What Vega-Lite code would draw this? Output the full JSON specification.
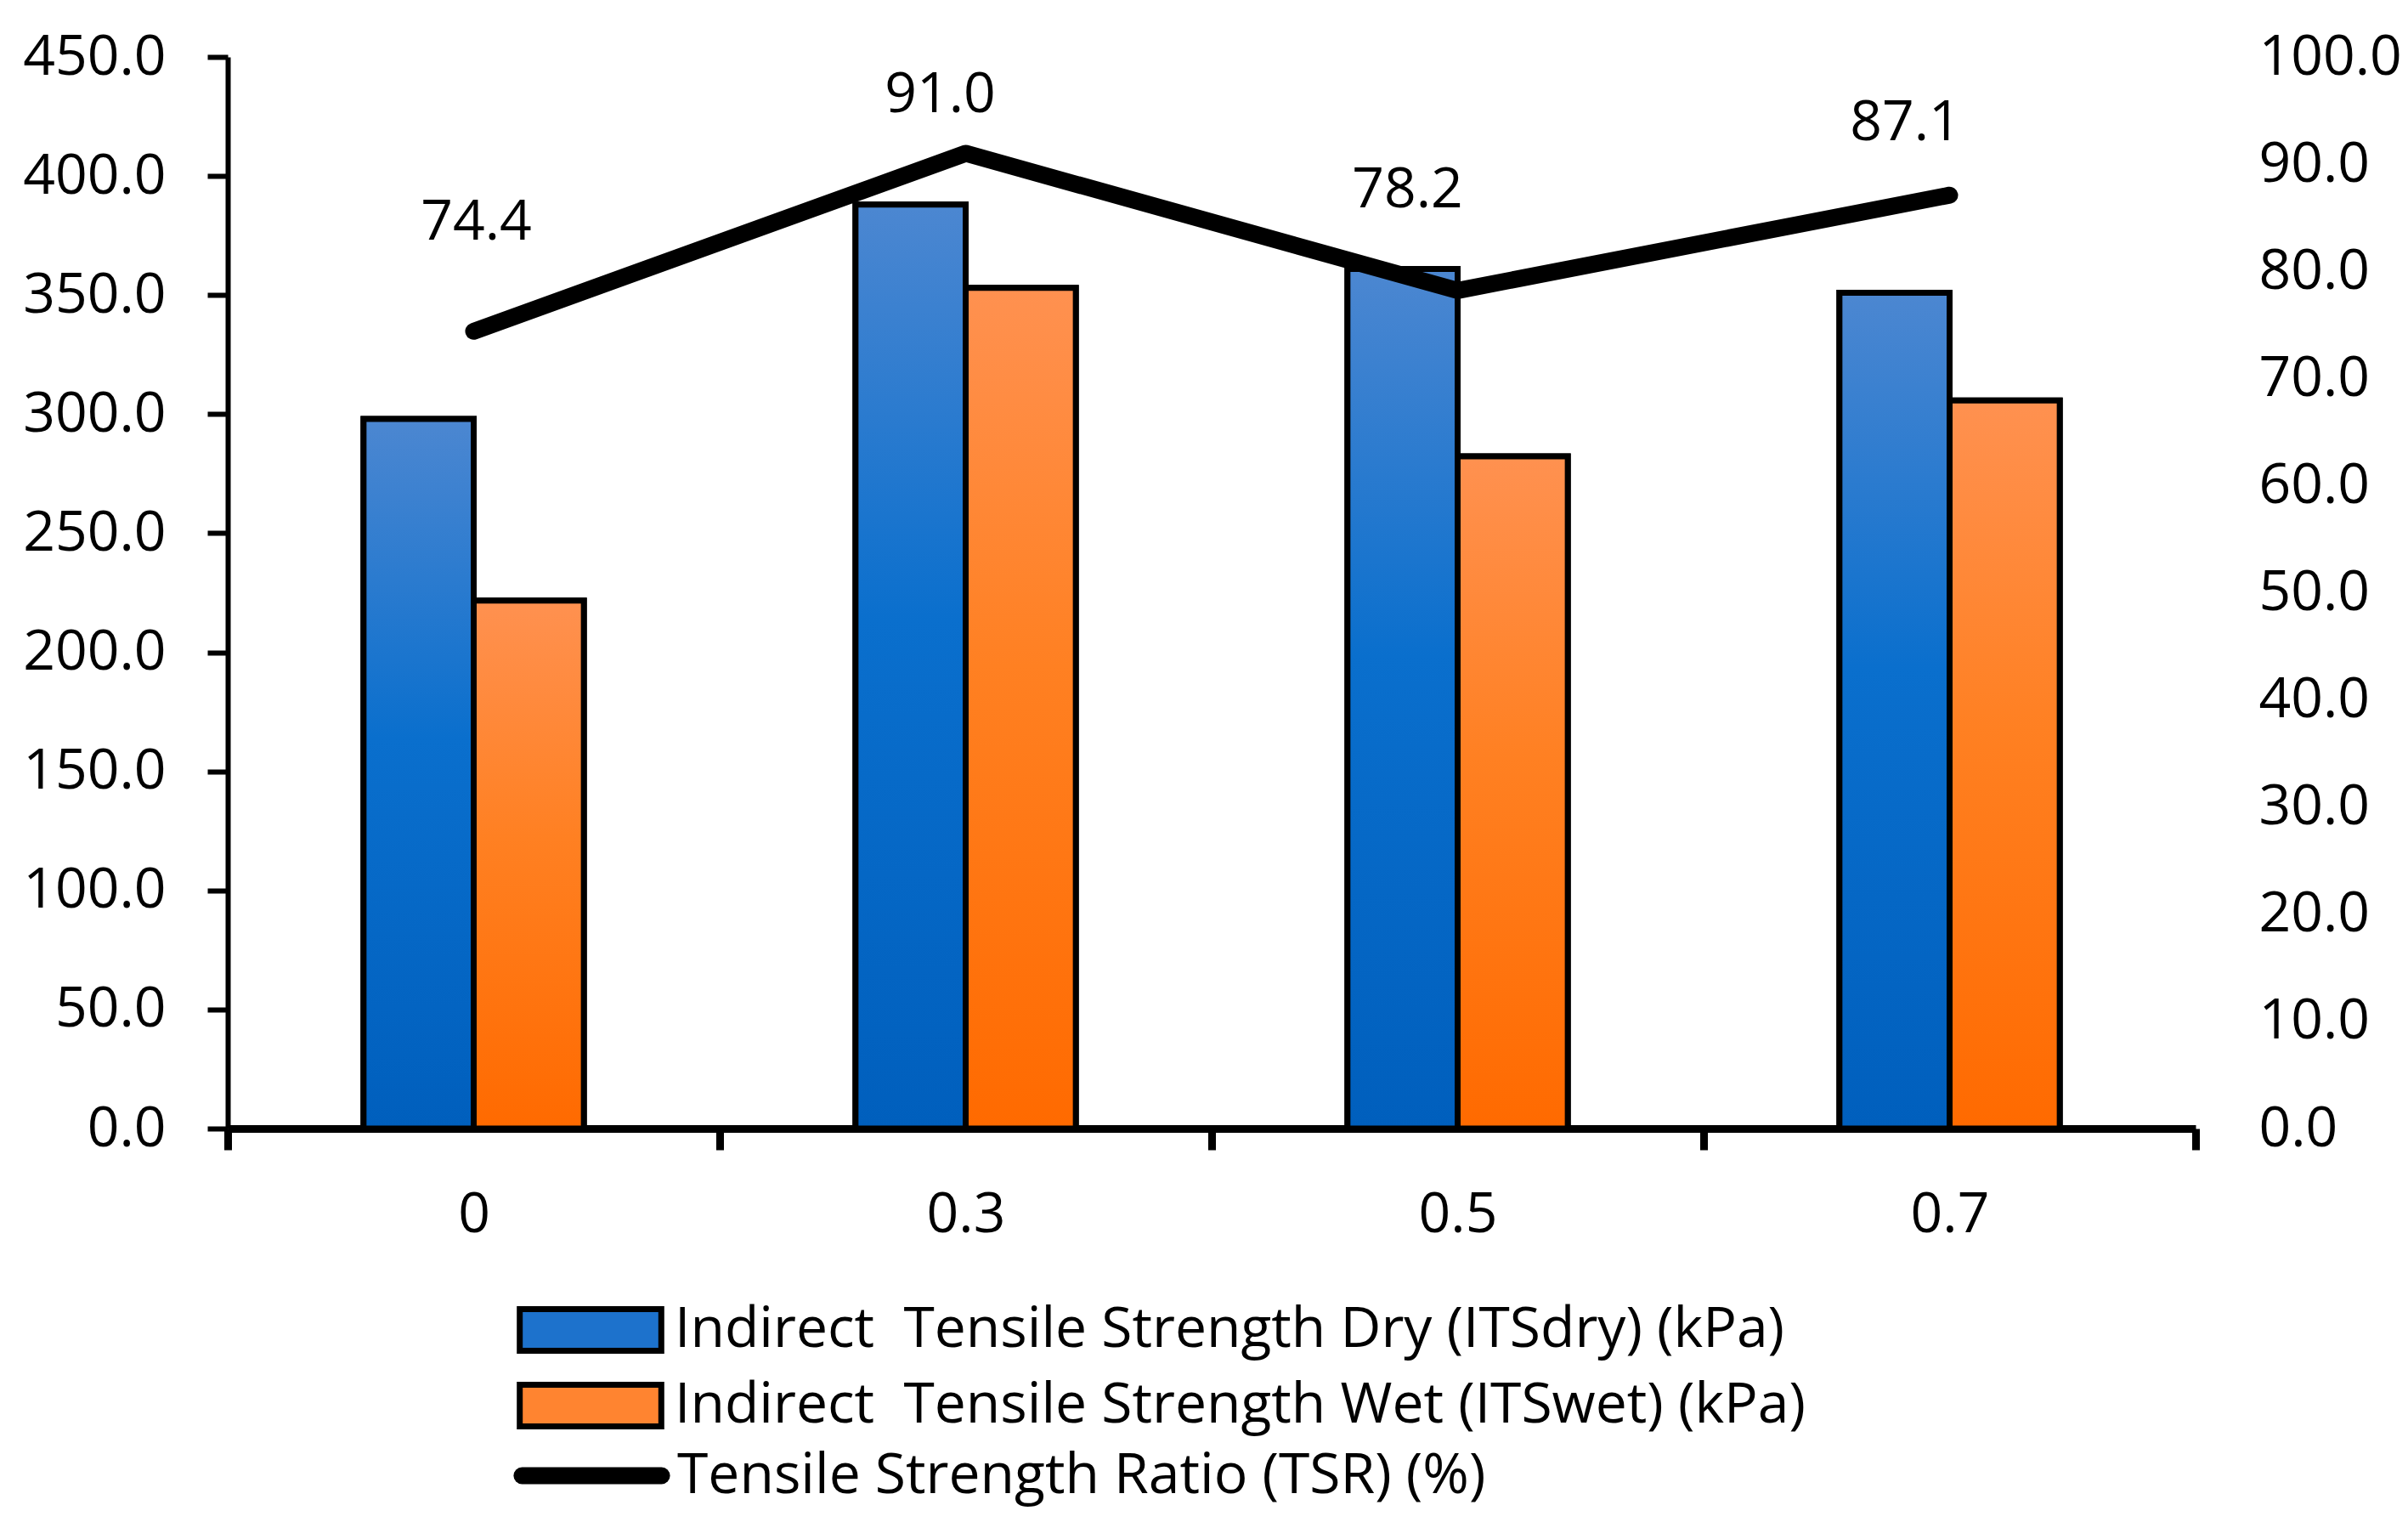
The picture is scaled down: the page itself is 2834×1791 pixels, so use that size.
{
  "$schema": "https://vega.github.io/schema/vega-lite/v6.json",
  "autosize": "none",
  "padding": {"left": 268, "top": 67, "right": 250, "bottom": 463},
  "width": 2316,
  "height": 1261,
  "config": {
    "view": {"stroke": null},
    "font": "Open Sans",
    "axis": {"labelFont": "Open Sans", "labelColor": "black", "labelFontSize": 66, "grid": false, "title": null},
    "legend": {"labelFont": "Open Sans", "labelColor": "black", "labelFontSize": 66}
  },
  "datasets": {
    "its": [
      {"cat": "0", "series": "Indirect\u00a0 Tensile Strength Dry (ITSdry) (kPa)", "val": 298},
      {"cat": "0", "series": "Indirect\u00a0 Tensile Strength Wet (ITSwet) (kPa)", "val": 221.7},
      {"cat": "0.3", "series": "Indirect\u00a0 Tensile Strength Dry (ITSdry) (kPa)", "val": 388},
      {"cat": "0.3", "series": "Indirect\u00a0 Tensile Strength Wet (ITSwet) (kPa)", "val": 353},
      {"cat": "0.5", "series": "Indirect\u00a0 Tensile Strength Dry (ITSdry) (kPa)", "val": 361},
      {"cat": "0.5", "series": "Indirect\u00a0 Tensile Strength Wet (ITSwet) (kPa)", "val": 282.3},
      {"cat": "0.7", "series": "Indirect\u00a0 Tensile Strength Dry (ITSdry) (kPa)", "val": 351},
      {"cat": "0.7", "series": "Indirect\u00a0 Tensile Strength Wet (ITSwet) (kPa)", "val": 305.7}
    ],
    "tsr": [
      {"cat": "0", "series": "Tensile Strength Ratio (TSR) (%)", "tsr": 74.4},
      {"cat": "0.3", "series": "Tensile Strength Ratio (TSR) (%)", "tsr": 91.0},
      {"cat": "0.5", "series": "Tensile Strength Ratio (TSR) (%)", "tsr": 78.2},
      {"cat": "0.7", "series": "Tensile Strength Ratio (TSR) (%)", "tsr": 87.1}
    ]
  },
  "layer": [
    {
      "data": {"name": "its"},
      "encoding": {
        "x": {
          "field": "cat", "type": "nominal", "sort": ["0", "0.3", "0.5", "0.7"],
          "scale": {"paddingInner": 0, "paddingOuter": 0},
          "axis": {
            "title": null, "labelAngle": 0, "tickBand": "extent",
            "domainColor": "black", "domainWidth": 9, "tickColor": "black", "tickWidth": 9,
            "tickSize": 25, "labelPadding": 44, "labelFontSize": 66
          }
        },
        "xOffset": {
          "field": "series", "type": "nominal",
          "scale": {"domain": ["_padL", "Indirect\u00a0 Tensile Strength Dry (ITSdry) (kPa)", "Indirect\u00a0 Tensile Strength Wet (ITSwet) (kPa)", "_padR"], "paddingInner": 0, "paddingOuter": 0.233}
        },
        "y": {
          "field": "val", "type": "quantitative",
          "scale": {"domain": [0, 450], "nice": false},
          "axis": {
            "orient": "left", "title": null, "values": [0, 50, 100, 150, 200, 250, 300, 350, 400, 450],
            "format": ".1f", "domainColor": "black", "domainWidth": 6, "tickColor": "black",
            "tickWidth": 6, "tickSize": 24, "labelPadding": 49, "labelFontSize": 66
          }
        }
      },
      "layer": [
        {
          "mark": {"type": "bar", "stroke": "black", "strokeWidth": 7, "strokeJoin": "miter"},
          "encoding": {
            "fill": {
              "field": "series", "type": "nominal",
              "scale": {
                "domain": ["Indirect\u00a0 Tensile Strength Dry (ITSdry) (kPa)", "Indirect\u00a0 Tensile Strength Wet (ITSwet) (kPa)"],
                "range": ["#1d72cc", "#ff8430"]
              },
              "legend": {
                "title": null, "orient": "none", "legendX": 394, "legendY": 1465, "direction": "vertical",
                "padding": 0, "symbolType": "M-3.4,-1H3.4V1H-3.4Z", "symbolSize": 2401,
                "symbolStrokeColor": "black", "symbolStrokeWidth": 7, "labelOffset": 66,
                "rowPadding": 11, "labelLimit": 0, "labelFontSize": 66, "symbolOpacity": 1,
                "encode": {"symbols": {"update": {"stroke": {"value": "black"}, "strokeWidth": {"value": 7}}}}
              }
            }
          }
        },
        {
          "mark": {"type": "bar", "stroke": "black", "strokeWidth": 7, "strokeJoin": "miter"},
          "encoding": {
            "fill": {
              "condition": {
                "test": "indexof(datum.series, 'Dry') >= 0",
                "value": {"gradient": "linear", "x1": 0, "y1": 0, "x2": 0, "y2": 1, "stops": [{"offset": 0, "color": "#4c87d1"}, {"offset": 0.45, "color": "#0a6fcd"}, {"offset": 1, "color": "#005fbd"}]}
              },
              "value": {"gradient": "linear", "x1": 0, "y1": 0, "x2": 0, "y2": 1, "stops": [{"offset": 0, "color": "#ff9150"}, {"offset": 0.45, "color": "#ff8022"}, {"offset": 1, "color": "#ff6a00"}]}
            }
          }
        }
      ]
    },
    {
      "data": {"name": "tsr"},
      "encoding": {
        "x": {"field": "cat", "type": "nominal", "sort": ["0", "0.3", "0.5", "0.7"]},
        "y": {
          "field": "tsr", "type": "quantitative",
          "scale": {"domain": [0, 100], "nice": false},
          "axis": {
            "orient": "right", "title": null, "values": [0, 10, 20, 30, 40, 50, 60, 70, 80, 90, 100],
            "format": ".1f", "domain": false, "ticks": false, "tickSize": 0, "labelPadding": 74,
            "labelFontSize": 66, "labelAlign": "left"
          }
        }
      },
      "layer": [
        {
          "mark": {"type": "line", "color": "black", "strokeWidth": 20, "strokeCap": "round", "strokeJoin": "round"},
          "encoding": {
            "stroke": {
              "field": "series", "type": "nominal",
              "scale": {"range": ["black"]},
              "legend": {
                "title": null, "orient": "none", "legendX": 394, "legendY": 1635, "direction": "vertical",
                "padding": 0, "symbolType": "M-3.35,0H3.35", "symbolSize": 2401, "symbolStrokeWidth": 20,
                "labelOffset": 66, "labelLimit": 0, "labelFontSize": 66,
                "encode": {"symbols": {"update": {"strokeCap": {"value": "round"}, "strokeWidth": {"value": 20}, "stroke": {"value": "black"}}}}
              }
            }
          }
        },
        {
          "transform": [{"filter": "datum.cat === '0'"}],
          "mark": {"type": "text", "fontSize": 66, "font": "Open Sans", "color": "black", "dx": 3, "dy": -128},
          "encoding": {"text": {"field": "tsr", "type": "quantitative", "format": ".1f"}}
        },
        {
          "transform": [{"filter": "datum.cat === '0.3'"}],
          "mark": {"type": "text", "fontSize": 66, "font": "Open Sans", "color": "black", "dx": -30, "dy": -68},
          "encoding": {"text": {"field": "tsr", "type": "quantitative", "format": ".1f"}}
        },
        {
          "transform": [{"filter": "datum.cat === '0.5'"}],
          "mark": {"type": "text", "fontSize": 66, "font": "Open Sans", "color": "black", "dx": -59, "dy": -118},
          "encoding": {"text": {"field": "tsr", "type": "quantitative", "format": ".1f"}}
        },
        {
          "transform": [{"filter": "datum.cat === '0.7'"}],
          "mark": {"type": "text", "fontSize": 66, "font": "Open Sans", "color": "black", "dx": -52, "dy": -85},
          "encoding": {"text": {"field": "tsr", "type": "quantitative", "format": ".1f"}}
        }
      ]
    }
  ],
  "resolve": {"scale": {"y": "independent"}, "axis": {"y": "independent"}}
}
